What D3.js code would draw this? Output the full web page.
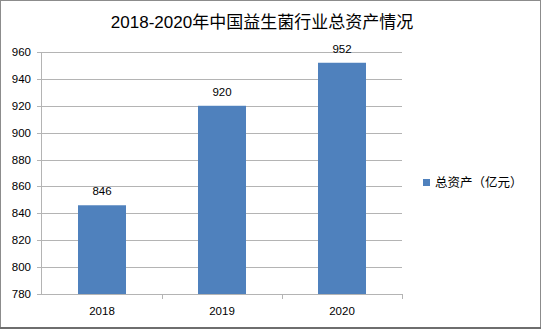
<!DOCTYPE html>
<html><head><meta charset="utf-8">
<script src="https://cdn.jsdelivr.net/npm/d3@7"></script>
<style>body{margin:0;background:#fff}svg{display:block}text{font-family:"Liberation Sans","Noto Sans CJK SC",sans-serif}</style>
</head><body>
<script>
const categories = ["2018", "2019", "2020"];
const values = [846, 920, 952];
const yTicks = [780, 800, 820, 840, 860, 880, 900, 920, 940, 960];
const seriesName = "总资产（亿元）";
const title = "2018-2020年中国益生菌行业总资产情况";

(function () {
const W = 541, H = 329;
const svg = d3.select("body").append("svg").attr("width", W).attr("height", H);
svg.append("rect").attr("x", 0.5).attr("y", 0.5).attr("width", W - 1).attr("height", H - 1)
  .attr("fill", "#fff").attr("stroke", "#8c8c8c").attr("stroke-width", 1);
svg.append("line").attr("x1",0).attr("x2",W).attr("y1",H-1).attr("y2",H-1).attr("stroke","#6e6e6e").attr("stroke-width",2);

const pl = 42, pr = 402, pt = 52, pb = 294;
const x = d3.scaleBand().domain(categories).range([pl, pr]).paddingInner(0.6).paddingOuter(0.3);
const xb = d3.scaleBand().domain(categories).range([pl, pr]);
const y = d3.scaleLinear().domain([780, 960]).range([pb, pt]);

svg.append("g").selectAll("line").data(yTicks).join("line")
  .attr("x1", pl - 5).attr("x2", pr).attr("y1", d => Math.round(y(d)) + 0.5).attr("y2", d => Math.round(y(d)) + 0.5)
  .attr("stroke", "#b4b4b4").attr("stroke-width", 1);
svg.append("line").attr("x1", pl - 0.5).attr("x2", pl - 0.5).attr("y1", pt).attr("y2", pb)
  .attr("stroke", "#b4b4b4");
svg.append("g").selectAll("text").data(yTicks).join("text")
  .attr("x", 31).attr("y", d => y(d) + 4).attr("text-anchor", "end")
  .attr("font-size", 11.5).attr("fill", "#000").text(d => d);

svg.append("g").selectAll("rect").data(values).join("rect")
  .attr("x", (d, i) => x(categories[i])).attr("width", x.bandwidth())
  .attr("y", d => y(d)).attr("height", d => pb - y(d)).attr("fill", "#4f81bd");

svg.append("g").selectAll("line").data(categories).join("line")
  .attr("x1", (d, i) => pl + xb.bandwidth() * (i + 1) + 0.5).attr("x2", (d, i) => pl + xb.bandwidth() * (i + 1) + 0.5)
  .attr("y1", pb).attr("y2", pb + 5).attr("stroke", "#b4b4b4");

svg.append("g").selectAll("text").data(values).join("text")
  .attr("x", (d, i) => x(categories[i]) + x.bandwidth() / 2).attr("y", d => y(d) - 10)
  .attr("text-anchor", "middle").attr("font-size", 11.5).text(d => d);

svg.append("g").selectAll("text").data(categories).join("text")
  .attr("x", d => xb(d) + xb.bandwidth() / 2).attr("y", 315)
  .attr("text-anchor", "middle").attr("font-size", 11.5).text(d => d);

svg.append("text").attr("x", 262).attr("y", 28).attr("text-anchor", "middle")
  .attr("font-size", 17).text(title);

svg.append("rect").attr("x", 423).attr("y", 179).attr("width", 7).attr("height", 7).attr("fill", "#4f81bd");
svg.append("text").attr("x", 435).attr("y", 187).attr("font-size", 12.5).text(seriesName);
})();
</script>
</body></html>
